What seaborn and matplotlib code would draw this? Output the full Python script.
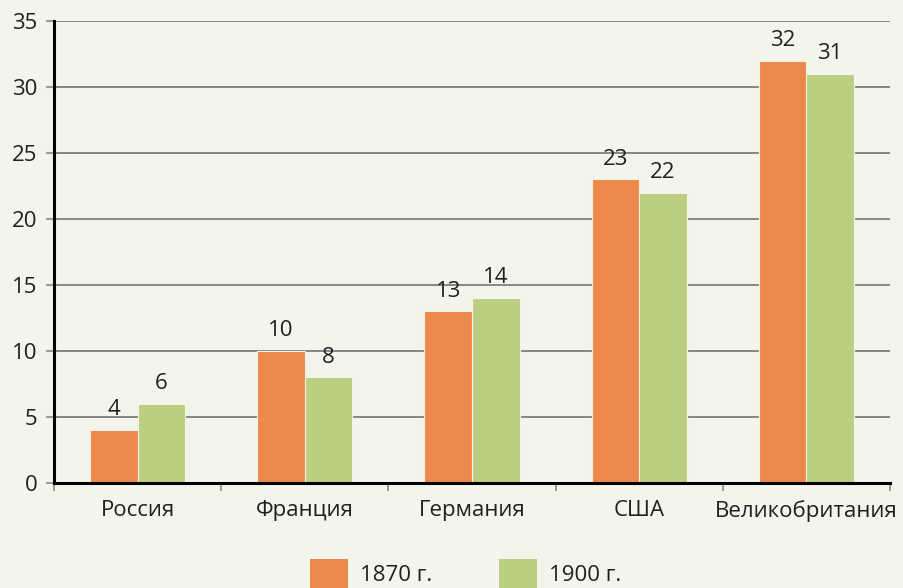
import matplotlib
matplotlib.use("Agg")
import matplotlib.pyplot as plt
import seaborn as sns
import pandas as pd
from matplotlib.patches import Patch
from matplotlib.ticker import FixedLocator

countries = ["Россия", "Франция", "Германия", "США", "Великобритания"]
values_1870 = [4, 10, 13, 23, 32]
values_1900 = [6, 8, 14, 22, 31]
series = ["1870 г.", "1900 г."]
yticks = [0, 5, 10, 15, 20, 25, 30, 35]

df = pd.DataFrame({
    "country": countries * 2,
    "value": values_1870 + values_1900,
    "year": [series[0]] * len(countries) + [series[1]] * len(countries),
})

bg = "#F3F4EC"
orange = "#EC884C"
green = "#BACF7F"
txt = "#231f20"
fs = 16

sns.set_theme(style="white")
plt.rcParams["font.family"] = ["Open Sans", "DejaVu Sans"]

fig = plt.figure(figsize=(9.04, 5.88), dpi=100, facecolor=bg)
ax = fig.add_axes([0.0597, 0.1786, 0.9248, 0.7857])
ax.set_facecolor(bg)

sns.barplot(data=df, x="country", y="value", hue="year", order=countries,
            hue_order=series, palette=[orange, green], width=0.57, gap=0,
            saturation=1, ax=ax, legend=False, linewidth=0.8, edgecolor="#f6f3e6")

for cont in ax.containers:
    ax.bar_label(cont, padding=7, fontsize=fs, color=txt)

ax.set_xlim(-0.5, 4.5)
ax.set_ylim(0, 35)
ax.set_yticks(yticks)
ax.yaxis.grid(True, color="#747474", linewidth=1.2)
ax.set_axisbelow(True)
ax.set_xlabel("")
ax.set_ylabel("")

for s in ["top", "right"]:
    ax.spines[s].set_visible(False)
for s in ["left", "bottom"]:
    ax.spines[s].set_color("black")
    ax.spines[s].set_linewidth(2.2)

ax.tick_params(axis="y", length=6, width=1.5, color="#9a9a9a", labelsize=fs,
               labelcolor=txt, pad=6, left=True)
ax.tick_params(axis="x", which="major", length=0, labelsize=fs, labelcolor=txt, pad=12)
ax.xaxis.set_minor_locator(FixedLocator([-0.5, 0.5, 1.5, 2.5, 3.5, 4.5]))
ax.tick_params(axis="x", which="minor", length=6, width=1.5, color="#9a9a9a", bottom=True)

handles = [Patch(facecolor=orange, edgecolor="none"), Patch(facecolor=green, edgecolor="none")]
fig.legend(handles, series, loc="center", bbox_to_anchor=(0.515, 0.025), ncol=2,
           frameon=False, fontsize=fs, handlelength=1.7, handleheight=1.6,
           columnspacing=3.0, handletextpad=0.55, borderpad=0, borderaxespad=0,
           labelcolor=txt)

fig.savefig("out.png", dpi=100, facecolor=bg)
